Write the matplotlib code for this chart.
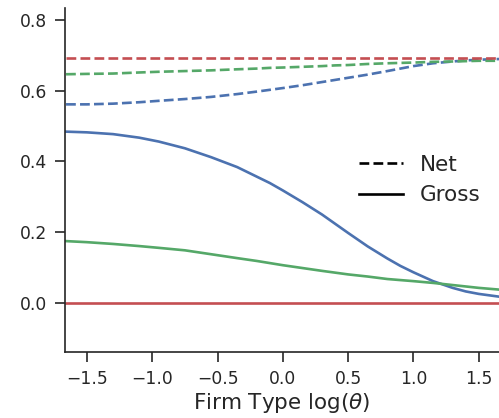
import numpy as np
import matplotlib
matplotlib.use("Agg")
import matplotlib.pyplot as plt
from matplotlib.lines import Line2D

# log(theta) grid
log_theta = [-1.66, -1.5, -1.3, -1.1, -0.95, -0.75, -0.55, -0.35, -0.2, -0.1, 0.0, 0.15,
             0.3, 0.4, 0.5, 0.65, 0.8, 0.9, 1.0, 1.15, 1.3, 1.4, 1.5, 1.66]

# Gross values
gross_blue = [0.484, 0.482, 0.477, 0.467, 0.456, 0.437, 0.412, 0.384, 0.357, 0.339, 0.318, 0.285,
              0.250, 0.224, 0.198, 0.160, 0.126, 0.105, 0.087, 0.062, 0.043, 0.033, 0.026, 0.018]
gross_green = [0.175, 0.172, 0.167, 0.161, 0.156, 0.149, 0.138, 0.127, 0.119, 0.113, 0.107, 0.099,
               0.091, 0.086, 0.081, 0.075, 0.068, 0.065, 0.062, 0.057, 0.051, 0.047, 0.043, 0.038]
gross_red = [0.0] * len(log_theta)

# Net values
net_blue = [0.561, 0.561, 0.563, 0.567, 0.571, 0.576, 0.582, 0.590, 0.597, 0.602, 0.607, 0.615,
            0.624, 0.630, 0.636, 0.645, 0.655, 0.662, 0.669, 0.677, 0.682, 0.685, 0.687, 0.689]
net_green = [0.646, 0.647, 0.648, 0.651, 0.653, 0.655, 0.657, 0.660, 0.662, 0.664, 0.665, 0.667,
             0.669, 0.671, 0.672, 0.675, 0.677, 0.678, 0.679, 0.681, 0.682, 0.683, 0.684, 0.684]
net_red = [0.693] * len(log_theta)

blue, green, red = "#4C72B0", "#55A868", "#C44E52"
text_col = "#262626"

fig = plt.figure(figsize=(4.99, 4.18), dpi=100)
ax = fig.add_axes([65 / 499, 66 / 418, 434 / 499, 344 / 418])

lw = 1.9
for ys, c in [(gross_blue, blue), (gross_green, green), (gross_red, red)]:
    ax.plot(log_theta, ys, color=c, lw=lw)
for ys, c in [(net_blue, blue), (net_green, green), (net_red, red)]:
    ax.plot(log_theta, ys, color=c, lw=lw, ls="--")

ax.set_xlim(-1.668, 1.655)
ax.set_ylim(-0.138, 0.833)
ax.set_xticks([-1.5, -1.0, -0.5, 0.0, 0.5, 1.0, 1.5])
ax.set_yticks([0.0, 0.2, 0.4, 0.6, 0.8])

for side in ["top", "right"]:
    ax.spines[side].set_visible(False)
for side in ["left", "bottom"]:
    ax.spines[side].set_linewidth(1.2)
    ax.spines[side].set_color(text_col)

ax.tick_params(labelsize=12.3, colors=text_col, length=7, width=1.2, pad=6)
ax.set_xlabel(r"Firm Type $\log(\theta)$", fontsize=15.5, color=text_col, labelpad=2)

handles = [Line2D([], [], color="black", lw=lw, ls="--"),
           Line2D([], [], color="black", lw=lw)]
leg = ax.legend(handles, ["Net", "Gross"], loc="center right", frameon=False,
                fontsize=15.5, handlelength=2.05, borderaxespad=0.45)
for t in leg.get_texts():
    t.set_color(text_col)

fig.savefig("out.png", dpi=100)
